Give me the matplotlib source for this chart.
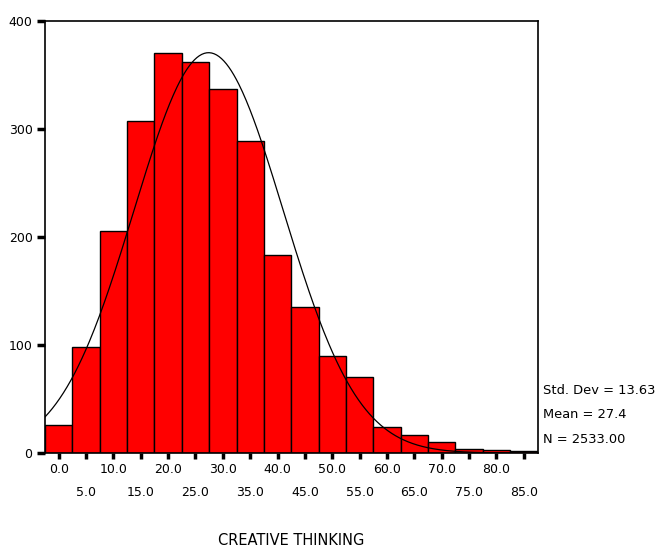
import numpy as np
import matplotlib.pyplot as plt

# bin centres and counts
centers = [0, 5, 10, 15, 20, 25, 30, 35, 40, 45, 50, 55, 60, 65, 70, 75, 80, 85]
counts = [26, 98, 206, 307, 370, 362, 337, 289, 183, 135, 90, 70, 24, 17, 10, 4, 3, 2]
std_dev = 13.63
mean = 27.4
n = 2533.00
bin_width = 5.0

major_ticks = [0, 10, 20, 30, 40, 50, 60, 70, 80]
minor_ticks = [5, 15, 25, 35, 45, 55, 65, 75, 85]
y_ticks = [0, 100, 200, 300, 400]

plt.rcParams['font.family'] = ['DejaVu Sans']

fig = plt.figure(figsize=(6.58, 5.52), dpi=100)
ax = fig.add_axes([0.0684, 0.1793, 0.7492, 0.7826])

ax.bar(centers, counts, width=bin_width, color='#ff0000', edgecolor='black', linewidth=1.0)

# normal curve from the stats shown at the right
xs = np.linspace(-2.5, 87.5, 400)
ys = n * bin_width * np.exp(-0.5 * ((xs - mean) / std_dev) ** 2) / (std_dev * np.sqrt(2 * np.pi))
ax.plot(xs, ys, color='black', linewidth=0.9)

ax.set_xlim(-2.5, 87.6)
ax.set_ylim(0, 400)

ax.set_xticks(major_ticks)
ax.set_xticklabels([f'{t:.1f}' for t in major_ticks])
ax.set_xticks(minor_ticks, minor=True)
ax.set_xticklabels([f'{t:.1f}' for t in minor_ticks], minor=True)
ax.set_yticks(y_ticks)
ax.set_yticklabels([str(t) for t in y_ticks])

ax.tick_params(axis='x', which='both', direction='out', length=4, width=2.5, labelsize=9)
ax.tick_params(axis='x', which='major', pad=3)
ax.tick_params(axis='x', which='minor', pad=20)
ax.tick_params(axis='y', direction='out', length=6, width=2.5, labelsize=9, pad=3)

for s in ax.spines.values():
    s.set_linewidth(1.2)

fig.text(0.443, 0.02, 'CREATIVE THINKING', fontsize=10.5, ha='center', va='center')

fig.text(0.825, 0.293, f'Std. Dev = {std_dev:.2f}', fontsize=9.4, va='center')
fig.text(0.825, 0.250, f'Mean = {mean:.1f}', fontsize=9.4, va='center')
fig.text(0.825, 0.203, f'N = {n:.2f}', fontsize=9.4, va='center')

fig.savefig('out.png', dpi=100)
